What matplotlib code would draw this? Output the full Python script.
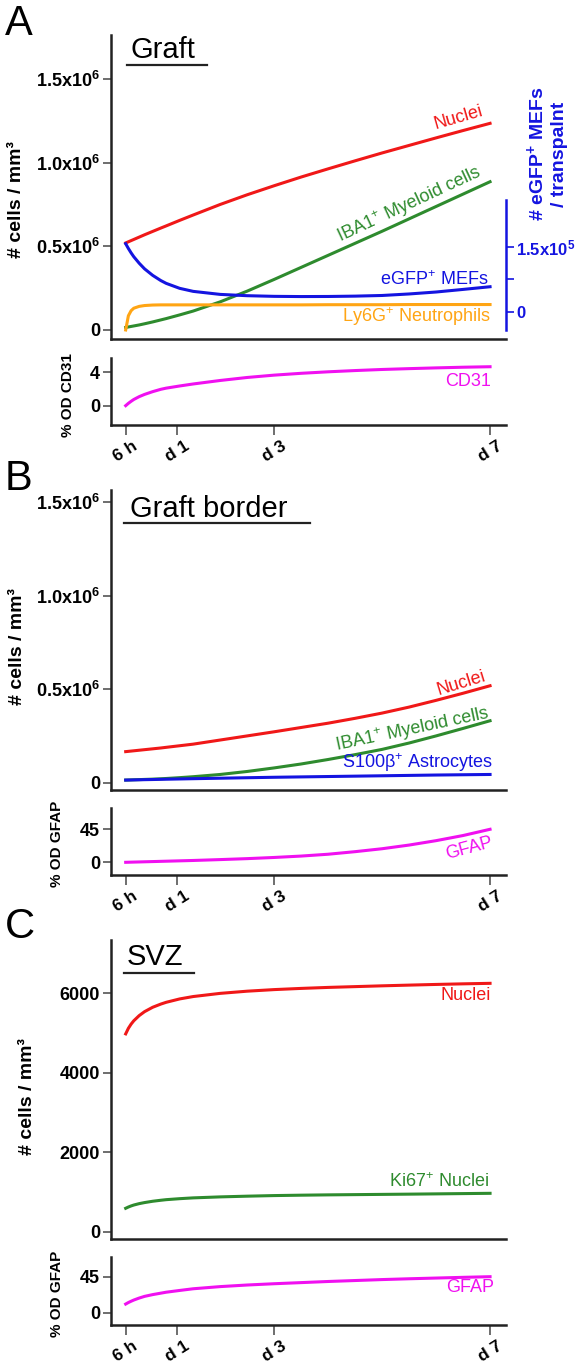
import matplotlib
matplotlib.use("Agg")
import matplotlib.pyplot as plt
from matplotlib.lines import Line2D

plt.rcParams['font.family'] = ['Liberation Sans', 'DejaVu Sans']
plt.rcParams['mathtext.fontset'] = 'custom'
plt.rcParams['mathtext.rm'] = 'Liberation Sans'
plt.rcParams['mathtext.bf'] = 'Liberation Sans:bold'
plt.rcParams['mathtext.it'] = 'Liberation Sans:italic'

# time points (days) the curves are read at
days = [0.25, 0.3, 0.35, 0.4, 0.5, 0.6, 0.75, 0.9, 1, 1.25, 1.5, 2, 2.5, 3, 3.5, 4,
        4.5, 5, 5.5, 6, 6.5, 7]
xtick_pos = [0.25, 1.2, 3, 7]
xtick_labels = ['6 h', 'd 1', 'd 3', 'd 7']

# A: graft (cells x 1e6 / mm3), MEFs x 1e5 per transplant, CD31 %OD
a_nuclei = [0.520, 0.527, 0.534, 0.541, 0.555, 0.569, 0.589, 0.609, 0.622, 0.655, 0.687,
            0.750, 0.808, 0.862, 0.914, 0.963, 1.011, 1.058, 1.103, 1.148, 1.192, 1.235]
a_iba1 = [0.015, 0.018, 0.021, 0.024, 0.030, 0.037, 0.048, 0.060, 0.068, 0.090, 0.113,
          0.168, 0.232, 0.302, 0.374, 0.446, 0.518, 0.590, 0.664, 0.738, 0.812, 0.886]
a_ly6g = [0.0, 0.085, 0.115, 0.130, 0.141, 0.146, 0.149, 0.150, 0.150, 0.150, 0.150,
          0.150, 0.150, 0.150, 0.150, 0.151, 0.151, 0.151, 0.152, 0.152, 0.152, 0.152]
a_mef = [1.57, 1.46, 1.36, 1.27, 1.12, 0.99, 0.84, 0.72, 0.655, 0.54, 0.47,
         0.40, 0.37, 0.355, 0.35, 0.352, 0.36, 0.375, 0.41, 0.455, 0.515, 0.577]
a_cd31 = [0, 0.28, 0.52, 0.74, 1.08, 1.35, 1.68, 1.96, 2.10, 2.36, 2.60,
          3.02, 3.38, 3.66, 3.88, 4.06, 4.21, 4.34, 4.44, 4.53, 4.61, 4.67]

# B: graft border
b_nuclei = [0.166, 0.1675, 0.169, 0.1705, 0.1735, 0.1765, 0.181, 0.1855, 0.189, 0.1975, 0.206,
            0.228, 0.250, 0.272, 0.295, 0.318, 0.344, 0.372, 0.404, 0.440, 0.478, 0.518]
b_iba1 = [0.014, 0.0145, 0.015, 0.0155, 0.0165, 0.0175, 0.019, 0.021, 0.0225, 0.027, 0.032,
          0.044, 0.060, 0.079, 0.100, 0.124, 0.150, 0.178, 0.212, 0.250, 0.290, 0.331]
b_s100b = [0.014, 0.0143, 0.0146, 0.015, 0.0156, 0.0162, 0.017, 0.018, 0.0186, 0.020, 0.0214,
           0.024, 0.0266, 0.029, 0.031, 0.033, 0.035, 0.037, 0.039, 0.041, 0.0425, 0.044]
b_gfap = [0, 0.1, 0.2, 0.3, 0.5, 0.7, 1.0, 1.3, 1.5, 2.0, 2.5,
          3.7, 5.0, 6.6, 8.5, 11, 14.5, 18.5, 23.5, 29.5, 36.5, 45]

# C: SVZ
c_nuclei = [4980, 5120, 5225, 5310, 5440, 5540, 5650, 5730, 5775, 5860, 5920,
            6000, 6055, 6095, 6125, 6150, 6170, 6190, 6208, 6225, 6240, 6253]
c_ki67 = [588, 620, 647, 670, 705, 732, 765, 790, 805, 830, 850,
          875, 893, 908, 918, 926, 932, 938, 944, 951, 958, 965]
c_gfap = [10.8, 12.7, 14.3, 15.8, 18.3, 20.4, 22.6, 24.4, 25.6, 27.8, 29.9,
          32.6, 34.6, 36.2, 37.6, 39.0, 40.2, 41.4, 42.4, 43.3, 44.2, 45]

RED = '#f01818'
GREEN = '#2e8b2e'
BLUE = '#1414e0'
ORANGE = '#ffa514'
MAG = '#f010f0'

W, H = 577, 1369
fig = plt.figure(figsize=(W / 100, H / 100), dpi=100)


def box(x0, y0, x1, y1):
    return [x0 / W, 1 - y1 / H, (x1 - x0) / W, (y1 - y0) / H]


def ftext(x, y, s, **kw):
    fig.text(x / W, 1 - y / H, s, **kw)


def underline(x0, x1, y):
    fig.add_artist(Line2D([x0 / W, x1 / W], [1 - y / H, 1 - y / H],
                          transform=fig.transFigure, color='#222222', lw=1.6))


def style(ax, ylim, yticks, ylabels, sub=False):
    ax.set_xlim(-0.022, 7.29)
    ax.set_ylim(*ylim)
    for s in ['top', 'right']:
        ax.spines[s].set_visible(False)
    for s in ['left', 'bottom']:
        ax.spines[s].set_linewidth(1.8)
        ax.spines[s].set_color('#222222')
    ax.set_yticks(yticks)
    ax.set_yticklabels(ylabels, fontsize=13, fontweight='bold')
    ax.tick_params(axis='y', length=6, width=1.2, color='#555555', pad=2)
    if sub:
        ax.set_xticks(xtick_pos)
        ax.set_xticklabels(xtick_labels, fontsize=12.5, fontweight='bold',
                           rotation=32, ha='center')
        ax.tick_params(axis='x', length=7, width=1.2, color='#555555', pad=3)
    else:
        ax.set_xticks([])


lw = 2.2
mil = ['0', r'0.5x10$^{\mathbf{6}}$', r'1.0x10$^{\mathbf{6}}$', r'1.5x10$^{\mathbf{6}}$']

# ---------- A ----------
axA = fig.add_axes(box(111, 35, 505.7, 339))
style(axA, (-0.054, 1.763), [0, 0.5, 1.0, 1.5], mil)
axA.plot(days, a_nuclei, color=RED, lw=lw)
axA.plot(days, a_iba1, color=GREEN, lw=lw)
axA.plot(days, a_ly6g, color=ORANGE, lw=lw)

axA2 = axA.twinx()
axA2.set_ylim(-0.63, 6.39)
for s in ['top', 'left', 'bottom']:
    axA2.spines[s].set_visible(False)
axA2.spines['right'].set_color(BLUE)
axA2.spines['right'].set_linewidth(1.8)
axA2.spines['right'].set_bounds(-0.42, 2.58)
axA2.set_yticks([0, 0.75, 1.5])
axA2.set_yticklabels(['0', '', r'1.5x10$^{\mathbf{5}}$'], fontsize=12,
                     fontweight='bold', color=BLUE)
axA2.tick_params(axis='y', length=6, width=1.2, color=BLUE, pad=1.5)
axA2.plot(days, a_mef, color=BLUE, lw=lw)

axAs = fig.add_axes(box(111, 358.3, 505.7, 425))
style(axAs, (-2.32, 5.68), [0, 4], ['0', '4'], sub=True)
axAs.plot(days, a_cd31, color=MAG, lw=lw)

ftext(5, 35, 'A', fontsize=30)
ftext(131, 58, 'Graft', fontsize=21)
underline(127, 206.7, 65)
ftext(17, 200, '# cells / mm³', fontsize=14, fontweight='bold', rotation=90,
      ha='center', va='center')
ftext(68, 395, '% OD CD31', fontsize=11, fontweight='bold', rotation=90,
      ha='center', va='center')
ftext(536, 154, r'# eGFP$^{\mathbf{+}}$ MEFs', fontsize=14, fontweight='bold',
      rotation=90, ha='center', va='center', color=BLUE)
ftext(560, 154, '/ transpalnt', fontsize=14, fontweight='bold',
      rotation=90, ha='center', va='center', color=BLUE)
ftext(458, 118, 'Nuclei', fontsize=13, color=RED, rotation=16, ha='center', va='center')
ftext(409, 205, r'IBA1$^{+}$ Myeloid cells', fontsize=13, color=GREEN, rotation=25,
      ha='center', va='center')
ftext(488, 280, r'eGFP$^{+}$ MEFs', fontsize=13, color=BLUE, ha='right', va='center')
ftext(490, 317, r'Ly6G$^{+}$ Neutrophils', fontsize=13, color=ORANGE, ha='right', va='center')
ftext(491, 381, 'CD31', fontsize=13, color=MAG, ha='right', va='center')

# ---------- B ----------
axB = fig.add_axes(box(111, 490, 505.7, 790))
style(axB, (-0.039, 1.564), [0, 0.5, 1.0, 1.5], mil)
axB.plot(days, b_nuclei, color=RED, lw=lw)
axB.plot(days, b_iba1, color=GREEN, lw=lw)
axB.plot(days, b_s100b, color=BLUE, lw=lw)

axBs = fig.add_axes(box(111, 808.3, 505.7, 875))
style(axBs, (-17.3, 73.6), [0, 45], ['0', '45'], sub=True)
axBs.plot(days, b_gfap, color=MAG, lw=lw)

ftext(5, 490, 'B', fontsize=30)
ftext(130, 517, 'Graft border', fontsize=21)
underline(124.4, 310, 522.7)
ftext(18, 647, '# cells / mm³', fontsize=14, fontweight='bold', rotation=90,
      ha='center', va='center')
ftext(57, 844, '% OD GFAP', fontsize=11, fontweight='bold', rotation=90,
      ha='center', va='center')
ftext(461, 683, 'Nuclei', fontsize=13, color=RED, rotation=17, ha='center', va='center')
ftext(412, 730, r'IBA1$^{+}$ Myeloid cells', fontsize=13, color=GREEN, rotation=12,
      ha='center', va='center')
ftext(493, 763, r'S100β$^{+}$ Astrocytes', fontsize=13, color=BLUE, ha='right', va='center')
ftext(469, 848, 'GFAP', fontsize=13, color=MAG, rotation=15, ha='center', va='center')

# ---------- C ----------
axC = fig.add_axes(box(111, 940, 505.7, 1239.3))
style(axC, (-193, 7344), [0, 2000, 4000, 6000], ['0', '2000', '4000', '6000'])
axC.plot(days, c_nuclei, color=RED, lw=lw)
axC.plot(days, c_ki67, color=GREEN, lw=lw)

axCs = fig.add_axes(box(111, 1257.3, 505.7, 1325))
style(axCs, (-15.4, 69.25), [0, 45], ['0', '45'], sub=True)
axCs.plot(days, c_gfap, color=MAG, lw=lw)

ftext(5, 938, 'C', fontsize=30)
ftext(127, 965, 'SVZ', fontsize=21)
underline(124, 194, 972.7)
ftext(28, 1097, '# cells / mm³', fontsize=14, fontweight='bold', rotation=90,
      ha='center', va='center')
ftext(57, 1294, '% OD GFAP', fontsize=11, fontweight='bold', rotation=90,
      ha='center', va='center')
ftext(491, 995, 'Nuclei', fontsize=13, color=RED, ha='right', va='center')
ftext(489, 1182, r'Ki67$^{+}$ Nuclei', fontsize=13, color=GREEN, ha='right', va='center')
ftext(494, 1288, 'GFAP', fontsize=13, color=MAG, ha='right', va='center')

fig.savefig('out.png', dpi=100)
